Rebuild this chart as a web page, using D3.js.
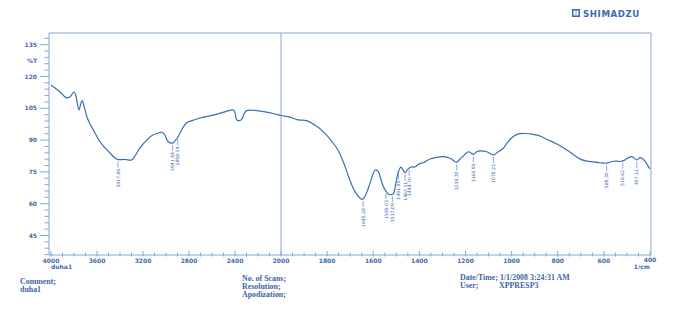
<!DOCTYPE html>
<html lang="en">
	<head>
		<meta charset="utf-8">
		<title>duha1 IR</title>
		<script type="text/javascript" src="https://cdn.jsdelivr.net/npm/d3@7"></script>
		<style type="text/css">
			body { margin: 0; background: #fff; }
			.frame { fill: none; stroke: #86a6d6; stroke-width: 1; }
			.spectrum { fill: none; stroke: #3b6db5; stroke-width: 1.2; stroke-linejoin: round; }
			.tick_lbl { font-family: "DejaVu Sans", sans-serif; font-size: 6px; font-weight: bold; fill: #3d6aac; }
			.peak_lbl { font-family: "DejaVu Sans", sans-serif; font-size: 4.6px; fill: #3d6aac; }
			.info { font-family: "Liberation Serif", serif; font-size: 7.9px; font-weight: bold; fill: #3f64a6; }
		</style>
	</head>
	<body>
		<script type="text/javascript">

			var w = 685, h = 326;

			// wavenumber (1/cm) and %T
			var wavenumbers = [4000, 3965, 3922, 3887, 3861, 3835, 3800, 3783, 3757, 3739, 3728, 3713, 3684, 3661, 3632, 3574, 3530, 3487, 3443, 3417,
				3357, 3298, 3270, 3226, 3168, 3122, 3070, 3037, 3017, 2980, 2942, 2922, 2898, 2870, 2820, 2774, 2704, 2589, 2487, 2415,
				2400, 2385, 2365, 2342, 2322, 2298, 2226, 2139, 2052, 2000, 1961, 1925, 1889, 1853, 1817, 1773, 1753, 1730, 1714, 1693,
				1675, 1650, 1644, 1631, 1614, 1601, 1592, 1578, 1566, 1556, 1545, 1535, 1523, 1513, 1501, 1491, 1480, 1471, 1462, 1454,
				1444, 1436, 1419, 1402, 1383, 1354, 1328, 1296, 1267, 1238, 1224, 1209, 1188, 1166, 1150, 1137, 1108, 1079, 1059, 1036,
				1021, 998, 971, 942, 906, 877, 848, 812, 776, 738, 703, 673, 646, 617, 588, 565, 544, 530, 515, 495,
				479, 469, 457, 443, 426, 407, 400];
			var transmittance = [116.0, 114.6, 112.7, 110.8, 109.9, 110.3, 112.8, 110.8, 104.2, 107.5, 108.6, 106.1, 100.4, 97.6, 94.8, 89.2, 86.3, 83.9, 81.5, 80.8,
				80.9, 80.6, 82.5, 86.3, 90.0, 92.2, 93.3, 93.7, 92.9, 89.2, 88.6, 89.6, 91.2, 94.3, 98.2, 99.2, 100.4, 101.8, 103.3, 104.2,
				102.8, 99.5, 99.2, 99.8, 102.3, 103.9, 104.0, 103.3, 102.3, 101.6, 100.8, 99.5, 99.2, 97.1, 94.0, 88.5, 85.3, 79.8, 75.0, 68.8,
				65.0, 62.1, 62.2, 64.6, 69.6, 74.0, 75.9, 75.1, 71.2, 68.0, 66.0, 64.6, 64.3, 64.6, 70.4, 75.1, 77.2, 75.9, 74.6, 75.7,
				76.8, 77.3, 77.3, 78.7, 79.3, 81.1, 81.8, 82.2, 81.4, 79.5, 81.1, 82.5, 84.5, 83.3, 84.6, 84.9, 84.5, 83.0, 84.4, 86.1,
				88.5, 91.2, 92.9, 93.1, 92.7, 91.9, 90.4, 88.6, 86.4, 83.7, 81.0, 80.1, 79.7, 79.3, 79.1, 79.9, 80.1, 79.9, 80.3, 81.6,
				82.2, 81.6, 80.6, 81.7, 80.6, 77.5, 76.4];

			// picked peaks
			var peak_wn = [3417, 2942, 2898, 1644, 1545, 1517, 1491, 1462, 1444, 1238, 1166, 1079, 588, 518, 457];
			var peak_text = ["3417.86", "2941.44", "2898.14", "1645.28", "1545.03", "1517.09", "1491.95", "1462.11", "1444.70",
				"1238.30", "1166.95", "1079.22", "588.30", "518.62", "457.12"];

			var x_ticks = [4000, 3600, 3200, 2800, 2400, 2000, 1800, 1600, 1400, 1200, 1000, 800, 600, 400];
			var y_ticks = [135, 120, 105, 90, 75, 60, 45];

			var spectrum = wavenumbers.map(function(d, i) { return [d, transmittance[i]]; });

			// Shimadzu chart: scale doubles below 2000 1/cm
			var xScale = d3.scaleLinear()
				.domain([4000, 2000, 400])
				.range([51, 281, 650]);

			var yScale = d3.scaleLinear()
				.domain([35.8, 140.5])
				.range([255, 33]);

			var svg = d3.select("body")
				.append("svg")
				.attr("width", w)
				.attr("height", h);

			// logo
			var logo = svg.append("g").attr("transform", "translate(572,9)");
			logo.append("rect").attr("width", 8).attr("height", 8).attr("fill", "#3d6aac");
			logo.append("rect").attr("x", 1.5).attr("y", 1.5).attr("width", 2.2).attr("height", 5).attr("fill", "#fff");
			logo.append("rect").attr("x", 4.3).attr("y", 1.5).attr("width", 2.2).attr("height", 5).attr("fill", "#fff");
			logo.append("text")
				.attr("x", 11).attr("y", 7.8)
				.attr("font-family", "DejaVu Sans, sans-serif")
				.attr("font-size", "8.6px")
				.attr("font-weight", "bold")
				.attr("letter-spacing", "0.6px")
				.attr("fill", "#3d6aac")
				.text("SHIMADZU");

			// frame + divider at 2000
			var x0 = xScale(4000) - 2, x1 = xScale(400) + 1;
			svg.append("path")
				.attr("class", "frame")
				.attr("d", "M" + x0 + "," + yScale(35.8) + "V" + yScale(140.5) + "H" + x1 + "V" + yScale(35.8));
			svg.append("line")
				.attr("class", "frame")
				.attr("x1", xScale(2000)).attr("x2", xScale(2000))
				.attr("y1", yScale(140.5)).attr("y2", yScale(35.8));

			// x axis
			var xa = svg.append("g");
			xa.append("line")
				.attr("class", "frame")
				.attr("x1", x0).attr("x2", x1)
				.attr("y1", yScale(35.8)).attr("y2", yScale(35.8));
			var minor_x = d3.range(4000, 2000, -100).concat(d3.range(2000, 399, -50));
			xa.selectAll(".mx")
				.data(minor_x)
				.enter()
				.append("line")
				.attr("class", "frame")
				.attr("x1", function(d) { return xScale(d); })
				.attr("x2", function(d) { return xScale(d); })
				.attr("y1", function(d) { return yScale(35.8) - (x_ticks.indexOf(d) >= 0 ? 4 : 2.5); })
				.attr("y2", yScale(35.8) + 1.5);
			xa.selectAll(".tick_lbl")
				.data(x_ticks)
				.enter()
				.append("text")
				.attr("class", "tick_lbl")
				.attr("x", function(d) { return xScale(d); })
				.attr("y", function(d) { return yScale(35.8) + (d === 400 ? 6.5 : 8); })
				.attr("text-anchor", "middle")
				.text(function(d) { return d; });
			xa.append("text").attr("class", "tick_lbl")
				.attr("x", xScale(4000)).attr("y", yScale(35.8) + 13.5)
				.text("duha1");
			xa.append("text").attr("class", "tick_lbl")
				.attr("x", xScale(400)).attr("y", yScale(35.8) + 14)
				.attr("text-anchor", "end")
				.text("1/cm");

			// y axis
			var ya = svg.append("g");
			ya.selectAll(".my")
				.data(d3.range(36, 141, 3))
				.enter()
				.append("line")
				.attr("class", "frame")
				.attr("x1", function(d) { return x0 - (y_ticks.indexOf(d) >= 0 ? 9 : 4.5); })
				.attr("x2", x0)
				.attr("y1", function(d) { return yScale(d); })
				.attr("y2", function(d) { return yScale(d); });
			ya.selectAll(".tick_lbl")
				.data(y_ticks)
				.enter()
				.append("text")
				.attr("class", "tick_lbl")
				.attr("x", 37)
				.attr("y", function(d) { return yScale(d) + 2.2; })
				.attr("text-anchor", "end")
				.text(function(d) { return d; });
			ya.append("text").attr("class", "tick_lbl")
				.attr("x", 37).attr("y", yScale(127.5) + 2.2)
				.attr("text-anchor", "end")
				.text("%T");

			// spectrum
			var line = d3.line()
				.x(function(d) { return xScale(d[0]); })
				.y(function(d) { return yScale(d[1]); })
				.curve(d3.curveCatmullRom);

			svg.append("path")
				.datum(spectrum)
				.attr("class", "spectrum")
				.attr("d", line);

			// peak markers
			var tAt = d3.scaleLinear().domain(wavenumbers).range(transmittance);
			var pk = svg.selectAll(".peak")
				.data(peak_wn)
				.enter()
				.append("g")
				.attr("transform", function(d) { return "translate(" + xScale(d) + "," + yScale(tAt(d)) + ")"; });
			pk.append("line")
				.attr("y1", 2).attr("y2", 8)
				.attr("stroke", "#5b82c0")
				.attr("stroke-width", 0.7);
			pk.append("text")
				.attr("class", "peak_lbl")
				.attr("transform", "translate(1.6,9) rotate(-90)")
				.attr("text-anchor", "end")
				.text(function(d, i) { return peak_text[i]; });

			// footer
			var info = [
				["Comment;", 20, 284], ["duha1", 20, 292],
				["No. of Scans;", 242, 281], ["Resolution;", 242, 289], ["Apodization;", 242, 297],
				["Date/Time; 1/1/2008 3:24:31 AM", 460, 280], ["User;", 460, 288], ["XPPRESP3", 499, 288]
			];
			svg.selectAll(".info")
				.data(info)
				.enter()
				.append("text")
				.attr("class", "info")
				.attr("x", function(d) { return d[1]; })
				.attr("y", function(d) { return d[2]; })
				.text(function(d) { return d[0]; });

		</script>
	</body>
</html>
